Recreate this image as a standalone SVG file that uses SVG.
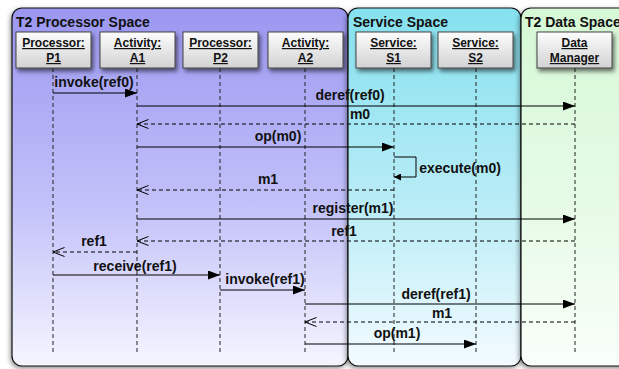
<svg xmlns="http://www.w3.org/2000/svg" width="619" height="369" viewBox="0 0 619 369">
  <defs>
    <linearGradient id="gProc" x1="0" y1="0" x2="0" y2="1">
      <stop offset="0" stop-color="#9b97f1"/>
      <stop offset="0.55" stop-color="#c2c1f9"/>
      <stop offset="1" stop-color="#f5f5ff"/>
    </linearGradient>
    <linearGradient id="gServ" x1="0" y1="0" x2="0" y2="1">
      <stop offset="0" stop-color="#85e1ef"/>
      <stop offset="0.55" stop-color="#b9ecf6"/>
      <stop offset="1" stop-color="#f3fbff"/>
    </linearGradient>
    <linearGradient id="gData" x1="0" y1="0" x2="0" y2="1">
      <stop offset="0" stop-color="#d5f8d5"/>
      <stop offset="0.6" stop-color="#e8fbe8"/>
      <stop offset="1" stop-color="#fafffa"/>
    </linearGradient>
    <linearGradient id="gBox" x1="0" y1="0" x2="0" y2="1">
      <stop offset="0" stop-color="#fdfdfd"/>
      <stop offset="1" stop-color="#d2d2d2"/>
    </linearGradient>
    <filter id="panelShadow" x="-10%" y="-10%" width="120%" height="120%">
      <feDropShadow dx="-1" dy="2" stdDeviation="2.5" flood-color="#000" flood-opacity="0.45"/>
    </filter>
    <filter id="boxShadow" x="-20%" y="-20%" width="150%" height="160%">
      <feDropShadow dx="2" dy="3" stdDeviation="2" flood-color="#000" flood-opacity="0.55"/>
    </filter>
    <!-- filled head for calls, drawn pointing along +x -->
    <marker id="solidHead" markerWidth="13" markerHeight="9" refX="12" refY="4.5" orient="auto" markerUnits="userSpaceOnUse">
      <path d="M0,0 L12,4.5 L0,9 Z" fill="#000"/>
    </marker>
    <!-- open head for returns, drawn pointing along +x -->
    <marker id="openHead" markerWidth="13" markerHeight="10" refX="11.5" refY="5" orient="auto" markerUnits="userSpaceOnUse">
      <path d="M0,0.5 L11.5,5 L0,9.5" fill="none" stroke="#000" stroke-width="1"/>
    </marker>
    <marker id="smallHead" markerWidth="8" markerHeight="7" refX="7" refY="3.5" orient="auto" markerUnits="userSpaceOnUse">
      <path d="M0,0 L7,3.5 L0,7 Z" fill="#000"/>
    </marker>
  </defs>
  <style>
    .panel { stroke: #111; stroke-width: 1.2; filter: url(#panelShadow); }
    .ptitle { font-family: "Liberation Sans", Arial, sans-serif; font-weight: bold; font-size: 14px; fill: #111; }
    .box { fill: url(#gBox); stroke: #444; stroke-width: 1; filter: url(#boxShadow); }
    .blabel { font-family: "Liberation Sans", Arial, sans-serif; font-weight: bold; font-size: 12px; fill: #111; text-anchor: middle; text-decoration: underline; }
    .life { stroke: #222; stroke-width: 1; stroke-dasharray: 4 3; fill: none; }
    .call { stroke: #000; stroke-width: 1; fill: none; marker-end: url(#solidHead); }
    .ret { stroke: #000; stroke-width: 1; stroke-dasharray: 4 3; fill: none; marker-end: url(#openHead); }
    .self { stroke: #000; stroke-width: 1; fill: none; marker-end: url(#smallHead); }
    .mlabel { font-family: "Liberation Sans", Arial, sans-serif; font-weight: bold; font-size: 14px; fill: #111; text-anchor: middle; }
  </style>

  <rect width="619" height="369" fill="#ffffff"/>

  <!-- swimlane spaces -->
  <g id="spaces">
    <g id="space-processor">
      <rect class="panel" x="12" y="8" width="336" height="358" rx="10" ry="10" fill="url(#gProc)"/>
      <text class="ptitle" x="16" y="27">T2 Processor Space</text>
    </g>
    <g id="space-service">
      <rect class="panel" x="348" y="8" width="173" height="358" rx="10" ry="10" fill="url(#gServ)"/>
      <text class="ptitle" x="353" y="27">Service Space</text>
    </g>
    <g id="space-data">
      <rect class="panel" x="521" y="8" width="112" height="358" rx="10" ry="10" fill="url(#gData)"/>
      <text class="ptitle" x="525" y="27">T2 Data Space</text>
    </g>
  </g>

  <!-- lifelines -->
  <g id="lifelines">
    <line class="life" x1="53" y1="68" x2="53" y2="353"/>
    <line class="life" x1="137" y1="68" x2="137" y2="353"/>
    <line class="life" x1="220" y1="68" x2="220" y2="353"/>
    <line class="life" x1="305" y1="68" x2="305" y2="353"/>
    <line class="life" x1="394" y1="68" x2="394" y2="353"/>
    <line class="life" x1="476" y1="68" x2="476" y2="353"/>
    <line class="life" x1="575" y1="68" x2="575" y2="353"/>
  </g>

  <!-- participants -->
  <g id="node-p1">
    <rect class="box" x="16" y="32" width="75" height="36"/>
    <text class="blabel" x="53.5" y="47">Processor:</text>
    <text class="blabel" x="53.5" y="62">P1</text>
  </g>
  <g id="node-a1">
    <rect class="box" x="100" y="32" width="75" height="36"/>
    <text class="blabel" x="137.5" y="47">Activity:</text>
    <text class="blabel" x="137.5" y="62">A1</text>
  </g>
  <g id="node-p2">
    <rect class="box" x="183" y="32" width="75" height="36"/>
    <text class="blabel" x="220.5" y="47">Processor:</text>
    <text class="blabel" x="220.5" y="62">P2</text>
  </g>
  <g id="node-a2">
    <rect class="box" x="268" y="32" width="75" height="36"/>
    <text class="blabel" x="305.5" y="47">Activity:</text>
    <text class="blabel" x="305.5" y="62">A2</text>
  </g>
  <g id="node-s1">
    <rect class="box" x="356" y="32" width="75" height="36"/>
    <text class="blabel" x="393.5" y="47">Service:</text>
    <text class="blabel" x="393.5" y="62">S1</text>
  </g>
  <g id="node-s2">
    <rect class="box" x="438" y="32" width="75" height="36"/>
    <text class="blabel" x="475.5" y="47">Service:</text>
    <text class="blabel" x="475.5" y="62">S2</text>
  </g>
  <g id="node-dm">
    <rect class="box" x="537" y="32" width="75" height="36"/>
    <text class="blabel" x="574.5" y="47">Data</text>
    <text class="blabel" x="574.5" y="62">Manager</text>
  </g>

  <!-- messages -->
  <g id="connectors">
    <line class="call" x1="53" y1="93" x2="137" y2="93"/>
    <text class="mlabel" x="94" y="87">invoke(ref0)</text>

    <line class="call" x1="137" y1="106" x2="575" y2="106"/>
    <text class="mlabel" x="350" y="100">deref(ref0)</text>

    <line class="ret" x1="575" y1="124" x2="137" y2="124"/>
    <text class="mlabel" x="360" y="119">m0</text>

    <line class="call" x1="137" y1="147" x2="394" y2="147"/>
    <text class="mlabel" x="278" y="141">op(m0)</text>

    <path class="self" d="M394,157 H416 V177 H394"/>
    <text class="mlabel" x="460" y="173">execute(m0)</text>

    <line class="ret" x1="394" y1="190" x2="137" y2="190"/>
    <text class="mlabel" x="268" y="184">m1</text>

    <line class="call" x1="137" y1="219" x2="575" y2="219"/>
    <text class="mlabel" x="353" y="213">register(m1)</text>

    <line class="ret" x1="575" y1="241" x2="137" y2="241"/>
    <text class="mlabel" x="344" y="236">ref1</text>

    <line class="ret" x1="137" y1="252" x2="53" y2="252"/>
    <text class="mlabel" x="94" y="246">ref1</text>

    <line class="call" x1="53" y1="275" x2="220" y2="275"/>
    <text class="mlabel" x="135" y="271">receive(ref1)</text>

    <line class="call" x1="220" y1="290" x2="305" y2="290"/>
    <text class="mlabel" x="265" y="284">invoke(ref1)</text>

    <line class="call" x1="305" y1="304" x2="575" y2="304"/>
    <text class="mlabel" x="436" y="299">deref(ref1)</text>

    <line class="ret" x1="575" y1="322" x2="305" y2="322"/>
    <text class="mlabel" x="442" y="318">m1</text>

    <line class="call" x1="305" y1="344" x2="476" y2="344"/>
    <text class="mlabel" x="397" y="338">op(m1)</text>
  </g>
</svg>
